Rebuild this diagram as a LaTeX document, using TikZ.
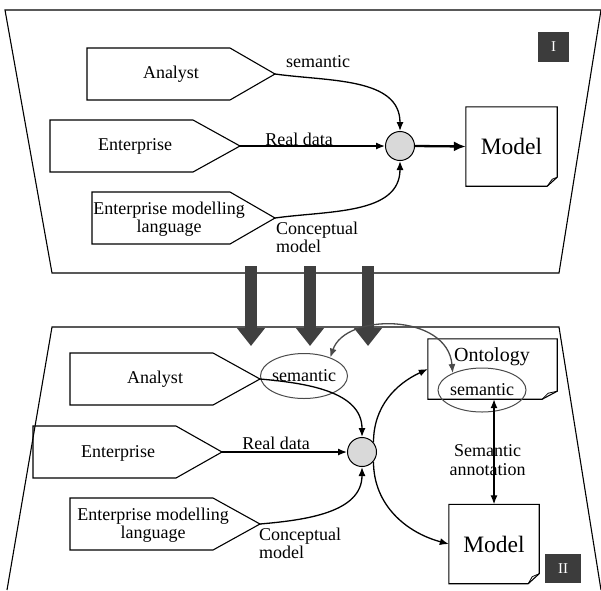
\documentclass[tikz,border=0pt]{standalone}
\usepackage{fontspec}
\setmainfont{Liberation Serif}
\usetikzlibrary{arrows.meta,shapes.geometric}

\definecolor{tagGray}{HTML}{3C3C3C}
\definecolor{dropGray}{HTML}{404040}
\definecolor{semGray}{HTML}{4A4A4A}

\begin{document}
\begin{tikzpicture} [
            x=1pt, y=1pt,
            every node/.style = {font=\fontsize{18}{18.5}\selectfont, inner sep=0pt, align=center},
            zone/.style = {draw=black, line width=1.1pt},
            hub/.style = {draw=black, circle, fill=gray!30, minimum size=29pt, line width=1pt},
            flow/.style = {line width=1.3pt, -{Latex[length=9pt,width=7pt]}},
            drop/.style = {draw=dropGray, line width=12pt, -{Triangle[width=27pt,length=18pt]}},
            sem/.style = {draw=semGray, ellipse, line width=1pt, inner xsep=-2pt, minimum width=87pt, minimum height=45pt},
            semlink/.style = {draw=semGray, line width=1.3pt, {Latex[length=9pt,width=7pt]}-{Latex[length=9pt,width=7pt]}},
            tag/.style = {fill=tagGray, text=white, font=\fontsize{15}{15}\selectfont},
        ]

            \useasboundingbox (0,0) rectangle (601,-590);

            % part I
            \draw[zone] (5,-10) -- (601,-10) -- (559,-273) -- (52,-273) -- cycle;
            \node[tag, minimum width=31pt, minimum height=30pt] (tagI) at (553.5,-47) {I};

            \draw[zone] (87,-48) -- (230,-48) -- (275,-74) -- (230,-100) -- (87,-100) -- cycle;
            \draw[zone] (50,-120) -- (193,-120) -- (240,-146) -- (193,-172) -- (50,-172) -- cycle;
            \draw[zone] (92,-192) -- (230,-192) -- (275,-218) -- (230,-244) -- (92,-244) -- cycle;
            \node (analystI) at (171,-74) {Analyst};
            \node (enterpriseI) at (135,-146) {Enterprise};
            \node (languageI) at (169,-219) {Enterprise modelling\\language};
            \coordinate (analystIout) at (275,-74);
            \coordinate (enterpriseIout) at (240,-146);
            \coordinate (languageIout) at (275,-218);

            \node[hub] (hubI) at (400,-146) {};
            \node[font=\fontsize{23.5}{24}\selectfont, minimum width=91pt, minimum height=79pt] (modelI) at (511.5,-146.5) {Model};
            \draw[zone] (modelI.north west) -- (modelI.north east) -- ([yshift=9pt]modelI.south east)
                -- ([xshift=-10pt]modelI.south east) -- (modelI.south west) -- cycle;
            \draw[line width=0.8pt] ([xshift=-10pt]modelI.south east) -- ([xshift=-5pt,yshift=7pt]modelI.south east)
                -- ([yshift=9pt]modelI.south east);

            \node (semanticI) at (318,-62) {semantic};
            \node (realI) at (299,-139) {Real data};
            \node[align=left, anchor=west] (conceptI) at (276,-237.5) {Conceptual\\model};

            \draw[flow] (analystIout) to[out=-8,in=90] (hubI.north);
            \draw[flow] (enterpriseIout) -- (hubI.west);
            \draw[flow] (languageIout) to[out=8,in=-90] (hubI.south);
            \draw[line width=2.3pt, -{Latex[length=12pt,width=10pt]}] (hubI.east) -- (modelI.west);

            % part II
            \draw[zone] (7,-590) -- (52,-327) -- (559,-327) -- (601,-590);
            \node[tag, minimum width=36pt, minimum height=29pt] (tagII) at (563,-568.5) {II};

            \draw[zone] (70,-353) -- (213,-353) -- (260,-379) -- (213,-405) -- (70,-405) -- cycle;
            \draw[zone] (33,-426) -- (176,-426) -- (222,-452) -- (176,-478) -- (33,-478) -- cycle;
            \draw[zone] (70,-498) -- (213,-498) -- (260,-524) -- (213,-550) -- (70,-550) -- cycle;
            \node (analystII) at (155,-379) {Analyst};
            \node (enterpriseII) at (118,-453) {Enterprise};
            \node (languageII) at (153,-525) {Enterprise modelling\\language};
            \coordinate (analystIIout) at (260,-379);
            \coordinate (enterpriseIIout) at (222,-452);
            \coordinate (languageIIout) at (260,-524);

            \node[hub] (hubII) at (362,-452) {};

            \node[minimum width=129pt, minimum height=60pt] (onto) at (492.5,-369) {};
            \draw[zone] (onto.north west) -- (onto.north east) -- ([yshift=8pt]onto.south east)
                -- ([xshift=-15pt]onto.south east) -- (onto.south west) -- cycle;
            \draw[line width=0.8pt] ([xshift=-15pt]onto.south east) -- ([xshift=-9pt,yshift=6pt]onto.south east)
                -- ([yshift=8pt]onto.south east);
            \node[font=\fontsize{20}{20}\selectfont] (ontoText) at (492,-357) {Ontology};

            \node[font=\fontsize{23.5}{24}\selectfont, minimum width=90pt, minimum height=79pt] (modelII) at (494,-544) {Model};
            \draw[zone] (modelII.north west) -- (modelII.north east) -- ([yshift=10pt]modelII.south east)
                -- ([xshift=-11pt]modelII.south east) -- (modelII.south west) -- cycle;
            \draw[line width=0.8pt] ([xshift=-11pt]modelII.south east) -- ([xshift=-7pt,yshift=7pt]modelII.south east)
                -- ([yshift=10pt]modelII.south east);

            \node[sem] (semL) at (304,-376) {semantic};
            \node[sem, minimum width=88pt, minimum height=44pt] (semR) at (482,-390) {semantic};

            \node (realII) at (276,-443) {Real data};
            \node[align=left, anchor=west] (conceptII) at (259,-543.5) {Conceptual\\model};
            \node (annot) at (487.5,-460) {Semantic\\annotation};

            \draw[flow] (analystIIout) to[out=-5,in=90] (hubII.north);
            \draw[flow] (enterpriseIIout) -- (hubII.west);
            \draw[flow] (languageIIout) to[out=5,in=-90] (hubII.south);
            \draw[flow] (hubII.40) to[out=90,in=205] (onto.west);
            \draw[flow] (hubII.-40) to[out=-90,in=165] (modelII.west);
            \draw[flow, {Latex[length=9pt,width=7pt]}-{Latex[length=9pt,width=7pt]}] (modelII.north) -- (modelII.north |- onto.south);

            % links between I and II
            \coordinate (dropAs) at (251,-266);
            \coordinate (dropAe) at (251,-346);
            \coordinate (dropBs) at (310,-266);
            \coordinate (dropBe) at (310,-346);
            \coordinate (dropCs) at (368,-266);
            \coordinate (dropCe) at (368,-346);
            \draw[drop] (dropAs) -- (dropAe);
            \draw[drop] (dropBs) -- (dropBe);
            \draw[drop] (dropCs) -- (dropCe);

            \draw[semlink] (semL.35) .. controls +(15,45) and +(-5,60) .. (semR.150);
        \end{tikzpicture}
\end{document}
